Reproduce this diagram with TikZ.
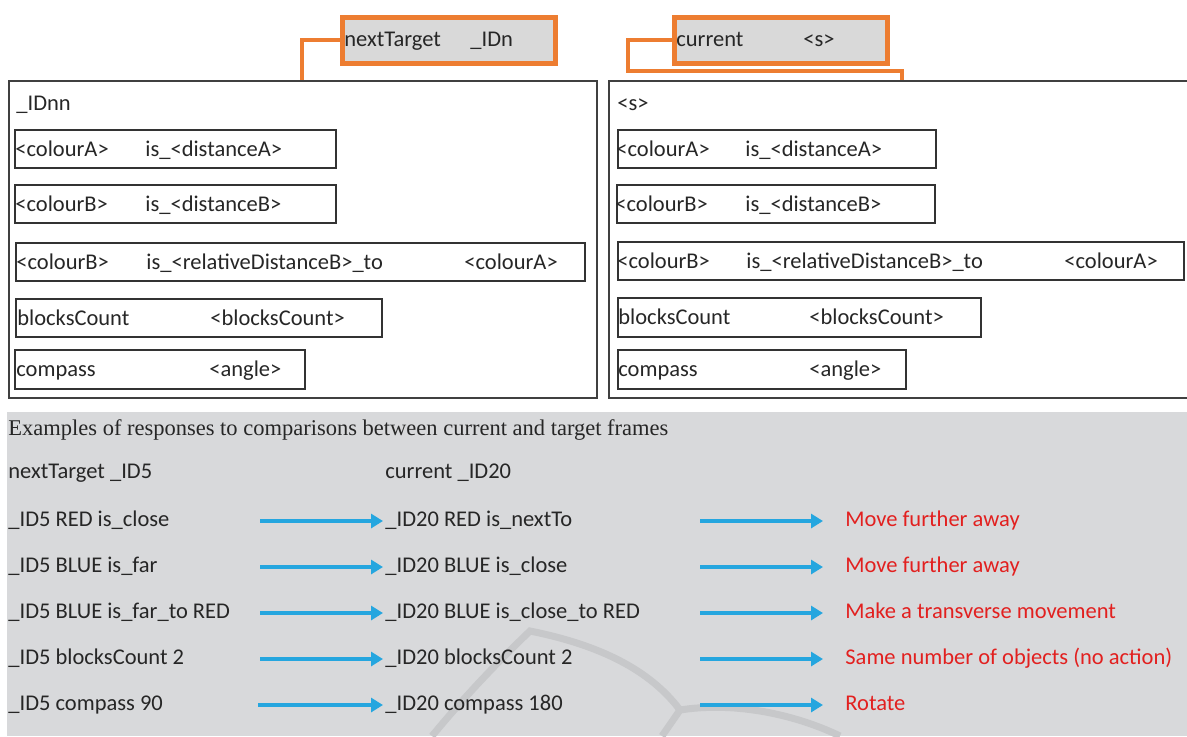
\documentclass[tikz,border=0pt]{standalone}
\usepackage{fontspec}
\setmainfont{Carlito}
\newfontfamily\capfont{Liberation Serif}
\usetikzlibrary{arrows.meta, positioning}

\definecolor{tagorange}{HTML}{ED7D31}
\definecolor{taggray}{HTML}{D9D9D9}
\definecolor{panelgray}{HTML}{D8D9DB}
\definecolor{markgray}{HTML}{C7C8CA}
\definecolor{flowblue}{HTML}{25A6DF}
\definecolor{actred}{HTML}{E2201F}
\definecolor{ink}{HTML}{262626}

\begin{document}
\begin{tikzpicture}[x=0.5pt, y=-0.5pt,
    font=\fontsize{11.25}{13.5}\selectfont, text=ink,
    frame/.style={draw=black!75, line width=1pt, rectangle, inner sep=0pt, anchor=north west},
    slot/.style={draw=black!80, line width=1pt, rectangle, inner sep=0pt, anchor=north west, minimum height=19pt},
    lbl/.style={anchor=base west, inner sep=0pt},
    act/.style={lbl, text=actred},
    tag/.style={draw=tagorange, fill=taggray, line width=2.5pt, rectangle, inner sep=0pt,
      anchor=north west, minimum width=106.5pt, minimum height=23pt},
    link/.style={draw=tagorange, line width=2pt},
    flow/.style={draw=flowblue, line width=2pt, -{Triangle[length=6pt,width=7pt]}}]
  \useasboundingbox (0,0) rectangle (1187,736);

  % target frame (left)
  \node[frame, minimum width=294pt, minimum height=158.5pt] (tframe) at (8,80) {};
  \node[slot, minimum width=160.5pt] (tbox1) at (14,129) {};
  \node[slot, minimum width=160.5pt] (tbox2) at (14,184) {};
  \node[slot, minimum width=284.5pt] (tbox3) at (15,242) {};
  \node[slot, minimum width=183pt] (tbox4) at (15,298) {};
  \node[slot, minimum width=145pt, minimum height=19.5pt] (tbox5) at (14,349) {};
  \node[lbl] (tid) at (16,110) {\_IDnn};
  \node[lbl] (t1a) at (15,156) {<colourA>};
  \node[lbl] (t1b) at (145,156) {is\_<distanceA>};
  \node[lbl] (t2a) at (15,211) {<colourB>};
  \node[lbl] (t2b) at (145,211) {is\_<distanceB>};
  \node[lbl] (t3a) at (16,269) {<colourB>};
  \node[lbl] (t3b) at (146,269) {is\_<relativeDistanceB>\_to};
  \node[lbl] (t3c) at (464,269) {<colourA>};
  \node[lbl] (t4a) at (17,325) {blocksCount};
  \node[lbl] (t4b) at (210,325) {<blocksCount>};
  \node[lbl] (t5a) at (16,376) {compass};
  \node[lbl] (t5b) at (209,376) {<angle>};

  % current frame (right), runs off the page edge
  \node[frame, minimum width=293.5pt, minimum height=158.5pt] (sframe) at (608,80) {};
  \node[slot, minimum width=159pt] (sbox1) at (617,129) {};
  \node[slot, minimum width=159pt] (sbox2) at (616,184) {};
  \node[slot, minimum width=283pt] (sbox3) at (617,241) {};
  \node[slot, minimum width=181.5pt, minimum height=19.5pt] (sbox4) at (617,297) {};
  \node[slot, minimum width=144pt, minimum height=19.5pt] (sbox5) at (617,349) {};
  \node[lbl] (sid) at (617,110) {<s>};
  \node[lbl] (s1a) at (616,156) {<colourA>};
  \node[lbl] (s1b) at (745,156) {is\_<distanceA>};
  \node[lbl] (s2a) at (615,211) {<colourB>};
  \node[lbl] (s2b) at (745,211) {is\_<distanceB>};
  \node[lbl] (s3a) at (617,268) {<colourB>};
  \node[lbl] (s3b) at (746,268) {is\_<relativeDistanceB>\_to};
  \node[lbl] (s3c) at (1064,268) {<colourA>};
  \node[lbl] (s4a) at (618,324) {blocksCount};
  \node[lbl] (s4b) at (809,324) {<blocksCount>};
  \node[lbl] (s5a) at (618,376) {compass};
  \node[lbl] (s5b) at (809,376) {<angle>};

  % orange tags on top
  \node[tag] (ttag) at (339.5,14.5) {};
  \node[lbl] (ttagA) at (344,46) {nextTarget};
  \node[lbl] (ttagB) at (470,46) {\_IDn};
  \node[tag] (stag) at (671.5,14.5) {};
  \node[lbl] (stagA) at (676,46) {current};
  \node[lbl] (stagB) at (803,46) {<s>};
  \coordinate (thook) at (302,80);
  \coordinate (shook) at (902,80);
  \draw[link] (ttag.west) -| (thook);
  \draw[link] (stag.west) -| (628,71) -| (shook);

  % grey panel with the examples
  \fill[panelgray] (7,412) rectangle (1187,736);
  \draw[markgray, line width=3.5pt] (432,736) .. controls (470,690) and (505,655) .. (530,631)
    .. controls (600,645) and (650,670) .. (680,710)
    .. controls (730,702) and (790,712) .. (840,736);
  \draw[markgray, line width=3.5pt] (680,710) -- (662,736);

  \node[lbl, font=\capfont\fontsize{11.25}{13.5}\selectfont] (caption) at (8,435)
    {Examples of responses to comparisons between current and target frames};
  \node[lbl] (tgt) at (8,478) {nextTarget \_ID5};
  \node[lbl] (cur) at (385,478) {current \_ID20};

  \node[lbl] (g1) at (8,526) {\_ID5 RED is\_close};
  \node[lbl] (g2) at (8,572) {\_ID5 BLUE is\_far};
  \node[lbl] (g3) at (8,618) {\_ID5 BLUE is\_far\_to RED};
  \node[lbl] (g4) at (8,664) {\_ID5 blocksCount 2};
  \node[lbl] (g5) at (8,710) {\_ID5 compass 90};

  \node[lbl] (c1) at (385,526) {\_ID20 RED is\_nextTo};
  \node[lbl] (c2) at (385,572) {\_ID20 BLUE is\_close};
  \node[lbl] (c3) at (385,618) {\_ID20 BLUE is\_close\_to RED};
  \node[lbl] (c4) at (385,664) {\_ID20 blocksCount 2};
  \node[lbl] (c5) at (385,710) {\_ID20 compass 180};

  \node[act] (r1) at (845,526) {Move further away};
  \node[act] (r2) at (845,572) {Move further away};
  \node[act] (r3) at (845,618) {Make a transverse movement};
  \node[act] (r4) at (845,664) {Same number of objects (no action)};
  \node[act] (r5) at (845,710) {Rotate};

  \coordinate (a1) at (260,521); \coordinate (b1) at (700,521);
  \coordinate (a2) at (260,567); \coordinate (b2) at (700,567);
  \coordinate (a3) at (260,613); \coordinate (b3) at (700,613);
  \coordinate (a4) at (260,659); \coordinate (b4) at (700,659);
  \coordinate (a5) at (258,705); \coordinate (b5) at (700,705);
  \draw[flow, shorten >=1pt] (a1) -- (a1 -| c1.west);
  \draw[flow, shorten >=1pt] (a2) -- (a2 -| c2.west);
  \draw[flow, shorten >=1pt] (a3) -- (a3 -| c3.west);
  \draw[flow, shorten >=1pt] (a4) -- (a4 -| c4.west);
  \draw[flow, shorten >=1pt] (a5) -- (a5 -| c5.west);
  \draw[flow, shorten >=11pt] (b1) -- (b1 -| r1.west);
  \draw[flow, shorten >=11pt] (b2) -- (b2 -| r2.west);
  \draw[flow, shorten >=11pt] (b3) -- (b3 -| r3.west);
  \draw[flow, shorten >=11pt] (b4) -- (b4 -| r4.west);
  \draw[flow, shorten >=11pt] (b5) -- (b5 -| r5.west);
\end{tikzpicture}
\end{document}
